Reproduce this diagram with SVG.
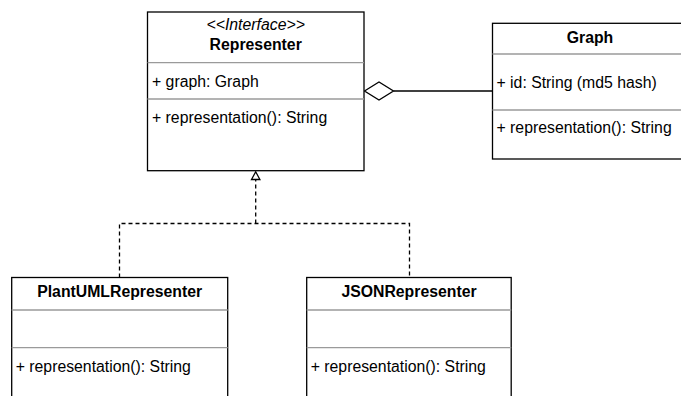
<svg xmlns="http://www.w3.org/2000/svg" width="681" height="396" viewBox="0 0 681 396">
  <style>
    .box { fill: #ffffff; stroke: #000000; stroke-width: 1.3; }
    .div { stroke: #9a9a9a; stroke-width: 1.3; fill: none; }
    .txt { font-family: "Liberation Sans", Arial, sans-serif; font-size: 15.8px; fill: #000000; }
    .title { font-weight: bold; text-anchor: middle; }
    .stereo { font-style: italic; text-anchor: middle; }
    .conn { stroke: #000000; stroke-width: 1.3; fill: none; }
    .dash { stroke-dasharray: 4 3; }
  </style>
  <rect width="681" height="396" fill="#ffffff"/>

  <g id="connectors">
    <!-- realization: implementations to interface -->
    <path class="conn dash" d="M119.5 277.5 V223.5 H409.5 V277.5"/>
    <path class="conn dash" d="M255.7 223.5 V179.5"/>
    <polygon class="conn" points="255.7,171.8 251.5,179.5 259.9,179.5" fill="#ffffff"/>
    <!-- aggregation: Representer holds a Graph -->
    <path class="conn" d="M393.5 91 H492.5"/>
    <polygon class="conn" points="364.5,91 379,82 393.5,91 379,100" fill="#ffffff"/>
  </g>

  <g id="representer">
    <rect class="box" x="147.5" y="12" width="216.5" height="158.7"/>
    <line class="div" x1="147.5" y1="62.7" x2="364" y2="62.7"/>
    <line class="div" x1="147.5" y1="99" x2="364" y2="99"/>
    <text class="txt stereo" x="255.7" y="29.5">&lt;&lt;Interface&gt;&gt;</text>
    <text class="txt title" x="255.7" y="49.5">Representer</text>
    <text class="txt" x="152" y="87">+ graph: Graph</text>
    <text class="txt" x="152" y="123.3">+ representation(): String</text>
  </g>

  <g id="graph">
    <rect class="box" x="492.5" y="23.3" width="196" height="135.7"/>
    <line class="div" x1="492.5" y1="54" x2="688.5" y2="54"/>
    <line class="div" x1="492.5" y1="110" x2="688.5" y2="110"/>
    <text class="txt title" x="590" y="42.7">Graph</text>
    <text class="txt" x="496.5" y="87.7">+ id: String (md5 hash)</text>
    <text class="txt" x="496.5" y="133.3">+ representation(): String</text>
  </g>

  <g id="plantuml-representer">
    <rect class="box" x="11.7" y="277.5" width="216" height="130"/>
    <line class="div" x1="11.7" y1="310" x2="227.7" y2="310"/>
    <line class="div" x1="11.7" y1="347.7" x2="227.7" y2="347.7"/>
    <text class="txt title" x="119.7" y="296.7">PlantUMLRepresenter</text>
    <text class="txt" x="15.7" y="372.3">+ representation(): String</text>
  </g>

  <g id="json-representer">
    <rect class="box" x="306.7" y="277.5" width="204.5" height="130"/>
    <line class="div" x1="306.7" y1="310" x2="511.2" y2="310"/>
    <line class="div" x1="306.7" y1="347.7" x2="511.2" y2="347.7"/>
    <text class="txt title" x="409" y="296.7">JSONRepresenter</text>
    <text class="txt" x="310.7" y="372.3">+ representation(): String</text>
  </g>
</svg>
